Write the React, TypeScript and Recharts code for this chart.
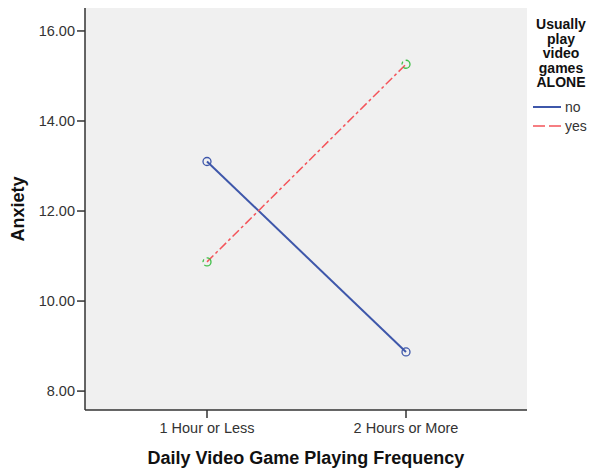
import React from 'react';
import {
  LineChart,
  Line,
  XAxis,
  YAxis,
  CartesianGrid,
  Label,
} from 'recharts';

const categories = ['1 Hour or Less', '2 Hours or More'];
const noValues = [13.1, 8.87];
const yesValues = [10.87, 15.26];
const yTicks = [8, 10, 12, 14, 16];
const legendTitle = ['Usually', 'play', 'video', 'games', 'ALONE'];

const BLUE = '#3E57AA';
const RED = '#F4545A';
const GREEN = '#3DBE45';
const AXIS = '#333';
const FONT = '"Liberation Sans", Arial, sans-serif';

const data = categories.map((c, i) => ({
  name: c,
  no: noValues[i],
  yes: yesValues[i],
}));

const tickStyle = { fill: '#333', fontSize: 14.5, fontFamily: FONT };

export default function App() {
  return (
    <div style={{ position: 'absolute', left: 0, top: 0, width: 592, height: 475, background: '#fff', fontFamily: FONT }}>
      <LineChart
        width={592}
        height={475}
        data={data}
        margin={{ top: 8, right: 65, left: 0, bottom: 35 }}
      >
        <CartesianGrid fill="#F0F0F0" horizontal={false} vertical={false} />
        <XAxis
          dataKey="name"
          height={30}
          padding={{ left: 122, right: 121 }}
          stroke={AXIS}
          strokeWidth={1.5}
          tickSize={8}
          tick={{ ...tickStyle, dy: 3 }}
        >
          <Label
            value="Daily Video Game Playing Frequency"
            position="bottom"
            offset={11}
            style={{ fontSize: 18, fontWeight: 'bold', fill: '#111', fontFamily: FONT }}
          />
        </XAxis>
        <XAxis
          xAxisId="top"
          dataKey="name"
          orientation="top"
          height={0}
          tick={false}
          tickLine={false}
          stroke={AXIS}
          strokeWidth={1.5}
        />
        <YAxis
          width={85}
          domain={[7.58, 16.51]}
          ticks={yTicks}
          tickFormatter={(v: number) => v.toFixed(2)}
          stroke={AXIS}
          strokeWidth={1.5}
          tickSize={8}
          tick={tickStyle}
        >
          <Label
            value="Anxiety"
            angle={-90}
            position="insideLeft"
            offset={18}
            style={{ textAnchor: 'middle', fontSize: 18, fontWeight: 'bold', fill: '#111', fontFamily: FONT }}
          />
        </YAxis>
        <YAxis
          yAxisId="right"
          orientation="right"
          width={0}
          domain={[7.58, 16.51]}
          tick={false}
          tickLine={false}
          stroke={AXIS}
          strokeWidth={1.5}
        />
        <Line
          dataKey="no"
          stroke={BLUE}
          strokeWidth={2}
          dot={{ r: 4, stroke: BLUE, strokeWidth: 1.3, fill: 'none' }}
          activeDot={false}
          isAnimationActive={false}
        />
        <Line
          dataKey="yes"
          stroke={RED}
          strokeWidth={1.5}
          strokeDasharray="9 3 3 3"
          dot={{ r: 4, stroke: GREEN, strokeWidth: 1.3, fill: 'none' }}
          activeDot={false}
          isAnimationActive={false}
        />
      </LineChart>
      <div style={{ position: 'absolute', left: 530, top: 17, width: 62, textAlign: 'center', fontWeight: 'bold', fontSize: 14, lineHeight: '14.5px', color: '#111' }}>
        {legendTitle.map((t) => (
          <div key={t}>{t}</div>
        ))}
      </div>
      <svg style={{ position: 'absolute', left: 530, top: 98 }} width={62} height={40}>
        <line x1={3} x2={31} y1={9} y2={9} stroke={BLUE} strokeWidth={2} />
        <text x={35} y={14} fontSize={14} fill="#333" fontFamily={FONT}>no</text>
        <line x1={3} x2={31} y1={28} y2={28} stroke={RED} strokeWidth={1.5} strokeDasharray="12 4" />
        <text x={35} y={33} fontSize={14} fill="#333" fontFamily={FONT}>yes</text>
      </svg>
    </div>
  );
}
